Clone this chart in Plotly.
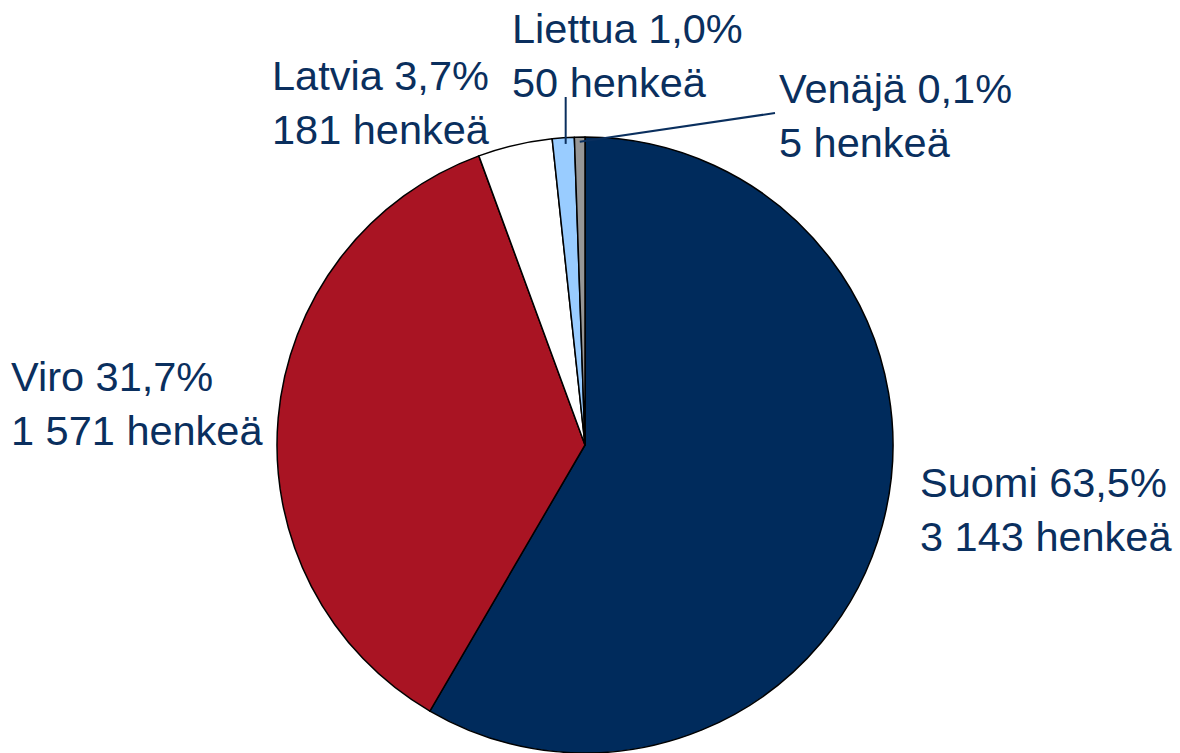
import plotly.graph_objects as go
import math

# ---- data ----
countries = ["Suomi", "Viro", "Latvia", "Liettua", "Venäjä"]
# slice sizes as drawn in the reference picture (angular share, %)
slice_values = [58.4, 36.0, 3.9, 1.15, 0.55]
label_pct = ["63,5%", "31,7%", "3,7%", "1,0%", "0,1%"]
persons = ["3 143", "1 571", "181", "50", "5"]
colors = ["#002B5C", "#A91423", "#FFFFFF", "#99CCFF", "#969696"]

W, H = 1180, 753
CX, CY, R = 585, 445, 308  # pie center / radius in pixels
TEXT_COLOR = "#0A2F5E"
FONT = dict(family="Liberation Sans, Arial, sans-serif", size=41.5, color=TEXT_COLOR)

fig = go.Figure()
fig.add_trace(go.Pie(
    labels=countries,
    values=slice_values,
    sort=False,
    direction="clockwise",
    rotation=0,
    marker=dict(colors=colors, line=dict(color="#000000", width=1.5)),
    textinfo="none",
    hoverinfo="label+percent",
    showlegend=False,
    domain=dict(x=[(CX - R) / W, (CX + R) / W], y=[(H - CY - R) / H, (H - CY + R) / H]),
))

# label anchor positions (left, top of text box) in pixels
label_pos = {
    "Suomi": (918, 457),
    "Viro": (9, 351),
    "Latvia": (270, 50),
    "Liettua": (510, 3),
    "Venäjä": (777, 63),
}

def px_to_paper(x, y):
    return x / W, 1 - y / H

annotations = []
for c, p, n in zip(countries, label_pct, persons):
    lx, ly = label_pos[c]
    xp, yp = px_to_paper(lx, ly)
    annotations.append(dict(
        x=xp, y=yp, xref="paper", yref="paper", xanchor="left", yanchor="top",
        text=f"{c} {p}<br>{n} henkeä", showarrow=False, align="left", font=FONT,
    ))

# leader lines for the two smallest slices, ending at the slice mid-angle
total = sum(slice_values)
cum = 0
mids = {}
for c, v in zip(countries, slice_values):
    mids[c] = (cum + v / 2) / total * 2 * math.pi
    cum += v

def slice_point(c, rr):
    a = mids[c]
    return CX + rr * R * math.sin(a), CY - rr * R * math.cos(a)

shapes = []
# Liettua: vertical line from below text down into slice
ex, ey = slice_point("Liettua", 0.98)
x0, y0 = px_to_paper(ex + 2, 97)
x1, y1 = px_to_paper(ex + 2, ey)
shapes.append(dict(type="line", xref="paper", yref="paper", x0=x0, y0=y0, x1=x1, y1=y1,
                   line=dict(color=TEXT_COLOR, width=2)))
# Venäjä
ex, ey = slice_point("Venäjä", 0.985)
x0, y0 = px_to_paper(775, 113)
x1, y1 = px_to_paper(ex, ey)
shapes.append(dict(type="line", xref="paper", yref="paper", x0=x0, y0=y0, x1=x1, y1=y1,
                   line=dict(color=TEXT_COLOR, width=2)))

fig.update_layout(
    width=W, height=H, autosize=False,
    margin=dict(l=0, r=0, t=0, b=0),
    paper_bgcolor="white", plot_bgcolor="white",
    annotations=annotations, shapes=shapes,
)

fig.write_html(
    "out.html",
    config={"displayModeBar": False},
    post_script="document.body.style.margin='0';document.body.style.overflow='hidden';",
)
